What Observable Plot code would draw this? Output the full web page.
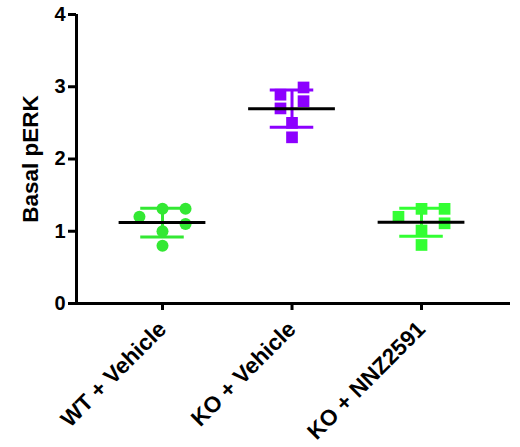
<!DOCTYPE html>
<html>
<head>
<meta charset="utf-8">
<script src="https://cdn.jsdelivr.net/npm/d3@7"></script>
<script src="https://cdn.jsdelivr.net/npm/@observablehq/plot@0.6"></script>
<style>
  body { margin: 0; background: #fff; }
  #chart svg { display: block; }
</style>
</head>
<body>
<div id="chart"></div>
<script>
// Categories
const groups = ["WT + Vehicle", "KO + Vehicle", "KO + NNZ2591"];
// Series values (Basal pERK, one value per animal)
const wtVehicle = [1.20, 1.31, 1.31, 1.10, 1.00, 0.80];
const koVehicle = [2.89, 2.99, 2.70, 2.80, 2.50, 2.30];
const koNNZ2591 = [1.20, 1.31, 1.31, 1.11, 1.01, 0.81];
// Scatter column slot of each point within its group (GraphPad-style arrangement)
const wtSlots = [-1, 0, 1, 1, 0, 0];
const koSlots = [-0.5, 0.5, -0.5, 0.5, 0, 0];
const nnzSlots = [-1, 0, 1, 1, 0, 0];
// Tick labels
const yTicks = [0, 1, 2, 3, 4];
// Styles
const colors = ["#33e833", "#8c00ff", "#33ff33"];
const shapes = ["circle", "square", "square"];

const series = [wtVehicle, koVehicle, koNNZ2591];
const slots = [wtSlots, koSlots, nnzSlots];

const slotWidth = 0.178;
const meanHalf = 0.335;
const capHalf = 0.168;

const points = series.flatMap((vals, g) => vals.map((v, i) => ({
  g, value: v, x: g + slots[g][i] * slotWidth, color: colors[g], shape: shapes[g]
})));
const stats = series.map((vals, g) => {
  const m = d3.mean(vals), s = d3.deviation(vals);
  return {g, mean: m, lo: m - s, hi: m + s, color: colors[g]};
});
const caps = stats.flatMap(d => [{g: d.g, y: d.lo, color: d.color}, {g: d.g, y: d.hi, color: d.color}]);

const font = "'Liberation Sans', Arial, Helvetica, sans-serif";

const chart = Plot.plot({
  width: 520,
  height: 447,
  marginLeft: 76,
  marginRight: 10,
  marginTop: 14,
  marginBottom: 144,
  style: {fontFamily: font, background: "white"},
  x: {domain: [-0.664, 2.687], axis: null},
  y: {domain: [0, 4], axis: null},
  marks: [
    // error bars (SD)
    Plot.ruleX(stats, {x: "g", y1: "lo", y2: "hi", stroke: "color", strokeWidth: 3}),
    Plot.ruleY(caps, {y: "y", x1: d => d.g - capHalf, x2: d => d.g + capHalf, stroke: "color", strokeWidth: 3}),
    // points
    Plot.dot(points.filter(d => d.shape === "circle"), {x: "x", y: "value", fill: "color", symbol: "circle", r: 6, stroke: null}),
    Plot.dot(points.filter(d => d.shape === "square"), {x: "x", y: "value", fill: "color", symbol: "square", r: 6.6, stroke: null}),
    // means
    Plot.ruleY(stats, {y: "mean", x1: d => d.g - meanHalf, x2: d => d.g + meanHalf, stroke: "black", strokeWidth: 3}),
    // axis lines
    Plot.ruleY([0], {stroke: "black", strokeWidth: 3}),
    Plot.ruleX([-0.664], {stroke: "black", strokeWidth: 3}),
    Plot.axisY({ticks: yTicks, tickSize: 8, tickPadding: 3, strokeWidth: 3, stroke: "black", fontSize: 20, fontWeight: "bold", fill: "black", label: null, tickFormat: d3.format("d")}),
    // x ticks
    Plot.axisX({ticks: [0, 1, 2], tickFormat: () => "", tickSize: 7, strokeWidth: 3, stroke: "black", label: null}),
    // x tick labels
    Plot.axisX({ticks: [0, 1, 2], tickFormat: i => groups[i], tickSize: 0, tickPadding: 22, dx: 0, tickRotate: -45, fontSize: 22.5, fontWeight: "bold", fill: "black", label: null}),
    Plot.text(["Basal pERK"], {frameAnchor: "left", textAnchor: "middle", rotate: -90, dx: -46, fontSize: 22.5, fontWeight: "bold", fill: "black"})
  ]
});
document.getElementById("chart").append(chart);
</script>
</body>
</html>
